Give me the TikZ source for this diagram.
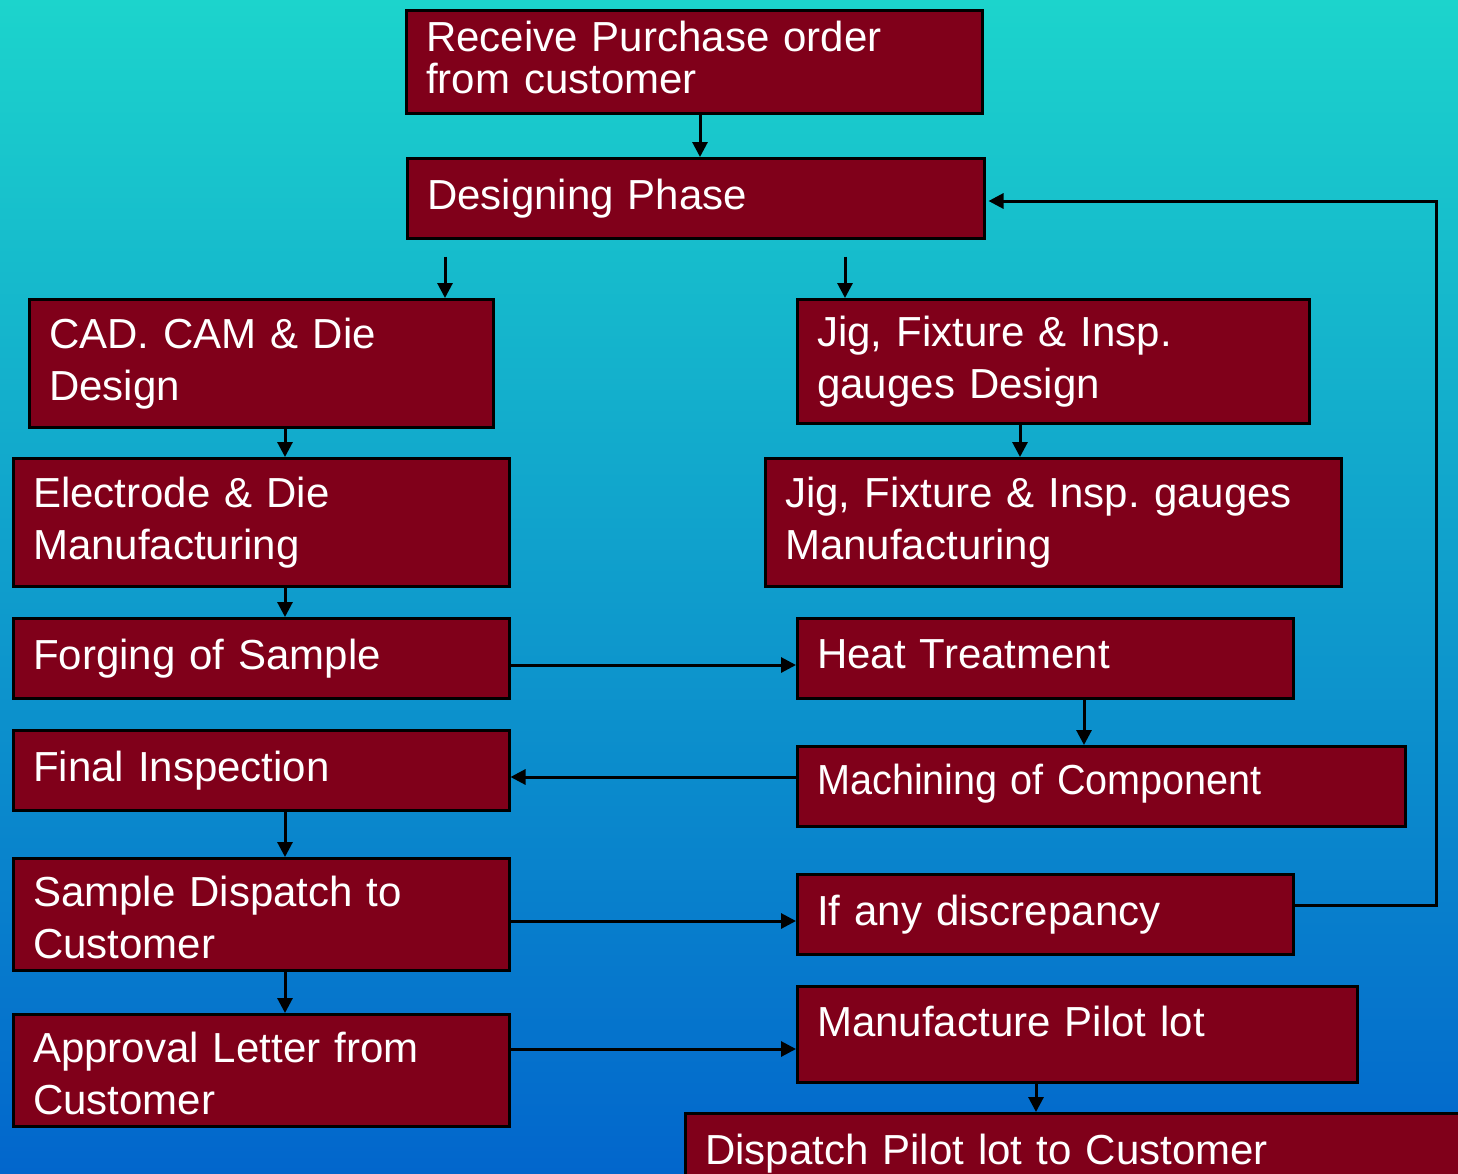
\documentclass[tikz,border=0pt]{standalone}
\usepackage{graphicx}
\usepackage{fontspec}
\setmainfont{Liberation Sans}
\usetikzlibrary{arrows.meta}
\definecolor{boxred}{RGB}{128, 0, 26}
\definecolor{skytop}{RGB}{28, 212, 204}
\definecolor{skymid}{RGB}{20, 170, 226}
\definecolor{skybot}{RGB}{2, 102, 204}
\frenchspacing

\begin{document}
\begin{tikzpicture}[x=1pt, y=-1pt,
    stage/.style 2 args={draw=black, line width=2.5pt, fill=boxred, text=white,
      anchor=north west, align=left, inner xsep=20pt, inner ysep=0pt,
      text width=#1pt, minimum height=#2pt,
      font=\fontsize{42}{52}\selectfont},
    flow/.style={line width=3pt, -{Triangle[length=15pt, width=15pt]}}]

  \useasboundingbox (0, 0) rectangle (1458, 1173);
  \clip (0, 0) rectangle (1458, 1173);
  \shade[top color=skytop, middle color=skymid, bottom color=skybot]
    (0, 0) rectangle (1458, 1173);

  % Top
  \node[stage={536}{103}, font=\fontsize{42}{42}\selectfont] (rcv) at (405, 9)
    {\raisebox{4pt}[\height][\depth]{Receive Purchase order}\\
     \raisebox{4pt}[\height][\depth]{from customer}};
  \node[stage={537}{80}] (dsg) at (406, 157) {Designing Phase};

  % Left column
  \node[stage={424}{128}] (cad)    at (28, 298)  {CAD. CAM \& Die\\Design};
  \node[stage={456}{128}] (elec)   at (12, 457)  {Electrode \& Die\\Manufacturing};
  \node[stage={456}{80}]  (forge)  at (12, 617)  {Forging of Sample};
  \node[stage={456}{80}]  (final)  at (12, 729)  {Final Inspection};
  \node[stage={456}{112}] (sample) at (12, 857)
    {\raisebox{-3pt}[\height][\depth]{Sample Dispatch to}\\
     \raisebox{-3pt}[\height][\depth]{Customer}};
  \node[stage={456}{112}] (appr)   at (12, 1013)
    {\raisebox{-3pt}[\height][\depth]{Approval Letter from}\\
     \raisebox{-3pt}[\height][\depth]{Customer}};

  % Right column
  \node[stage={472}{124}] (jig)   at (796, 298)  {Jig, Fixture \& Insp.\\gauges Design};
  \node[stage={536}{128}] (jigm)  at (764, 457)  {Jig, Fixture \& Insp. gauges\\Manufacturing};
  \node[stage={456}{80}]  (heat)  at (796, 617)
    {\raisebox{4pt}[\height][\depth]{Heat Treatment}};
  \node[stage={568}{80}]  (mach)  at (796, 745)
    {\raisebox{3pt}[\height][\depth]{\scalebox{0.943}[1]{Machining of Component}}};
  \node[stage={456}{80}]  (disc)  at (796, 873)  {If any discrepancy};
  \node[stage={520}{96}]  (pilot) at (796, 985)
    {\raisebox{13pt}[\height][\depth]{Manufacture Pilot lot}};
  \node[stage={760}{80}]  (disp)  at (684, 1112) {Dispatch Pilot lot to Customer};

  % Down arrows
  \coordinate (lx) at (285, 0);
  \foreach \a/\b in {cad/elec, elec/forge, final/sample, sample/appr} {
    \draw[flow] (lx |- \a.south) -- (lx |- \b.north);
  }
  \foreach \x/\a/\b in {700/rcv/dsg, 1020/jig/jigm, 1084/heat/mach, 1036/pilot/disp} {
    \coordinate (cx) at (\x, 0);
    \draw[flow] (cx |- \a.south) -- (cx |- \b.north);
  }
  \foreach \x/\b in {445/cad, 845/jig} {
    \coordinate (cx) at (\x, 0);
    \draw[flow, shorten <=17pt] (cx |- dsg.south) -- (cx |- \b.north);
  }

  % Across arrows
  \foreach \y/\a/\b in {665/forge/heat, 921/sample/disc, 1049/appr/pilot} {
    \coordinate (cy) at (0, \y);
    \draw[flow] (cy -| \a.east) -- (cy -| \b.west);
  }
  \coordinate (cy) at (0, 777);
  \draw[flow] (cy -| mach.west) -- (cy -| final.east);

  % Back to design
  \coordinate (rx) at (1436, 0);
  \coordinate (fy) at (0, 905);
  \coordinate (ty) at (0, 201);
  \draw[flow, shorten >=3pt] (fy -| disc.east) -- (fy -| rx) -- (ty -| rx) -- (ty -| dsg.east);

\end{tikzpicture}
\end{document}
